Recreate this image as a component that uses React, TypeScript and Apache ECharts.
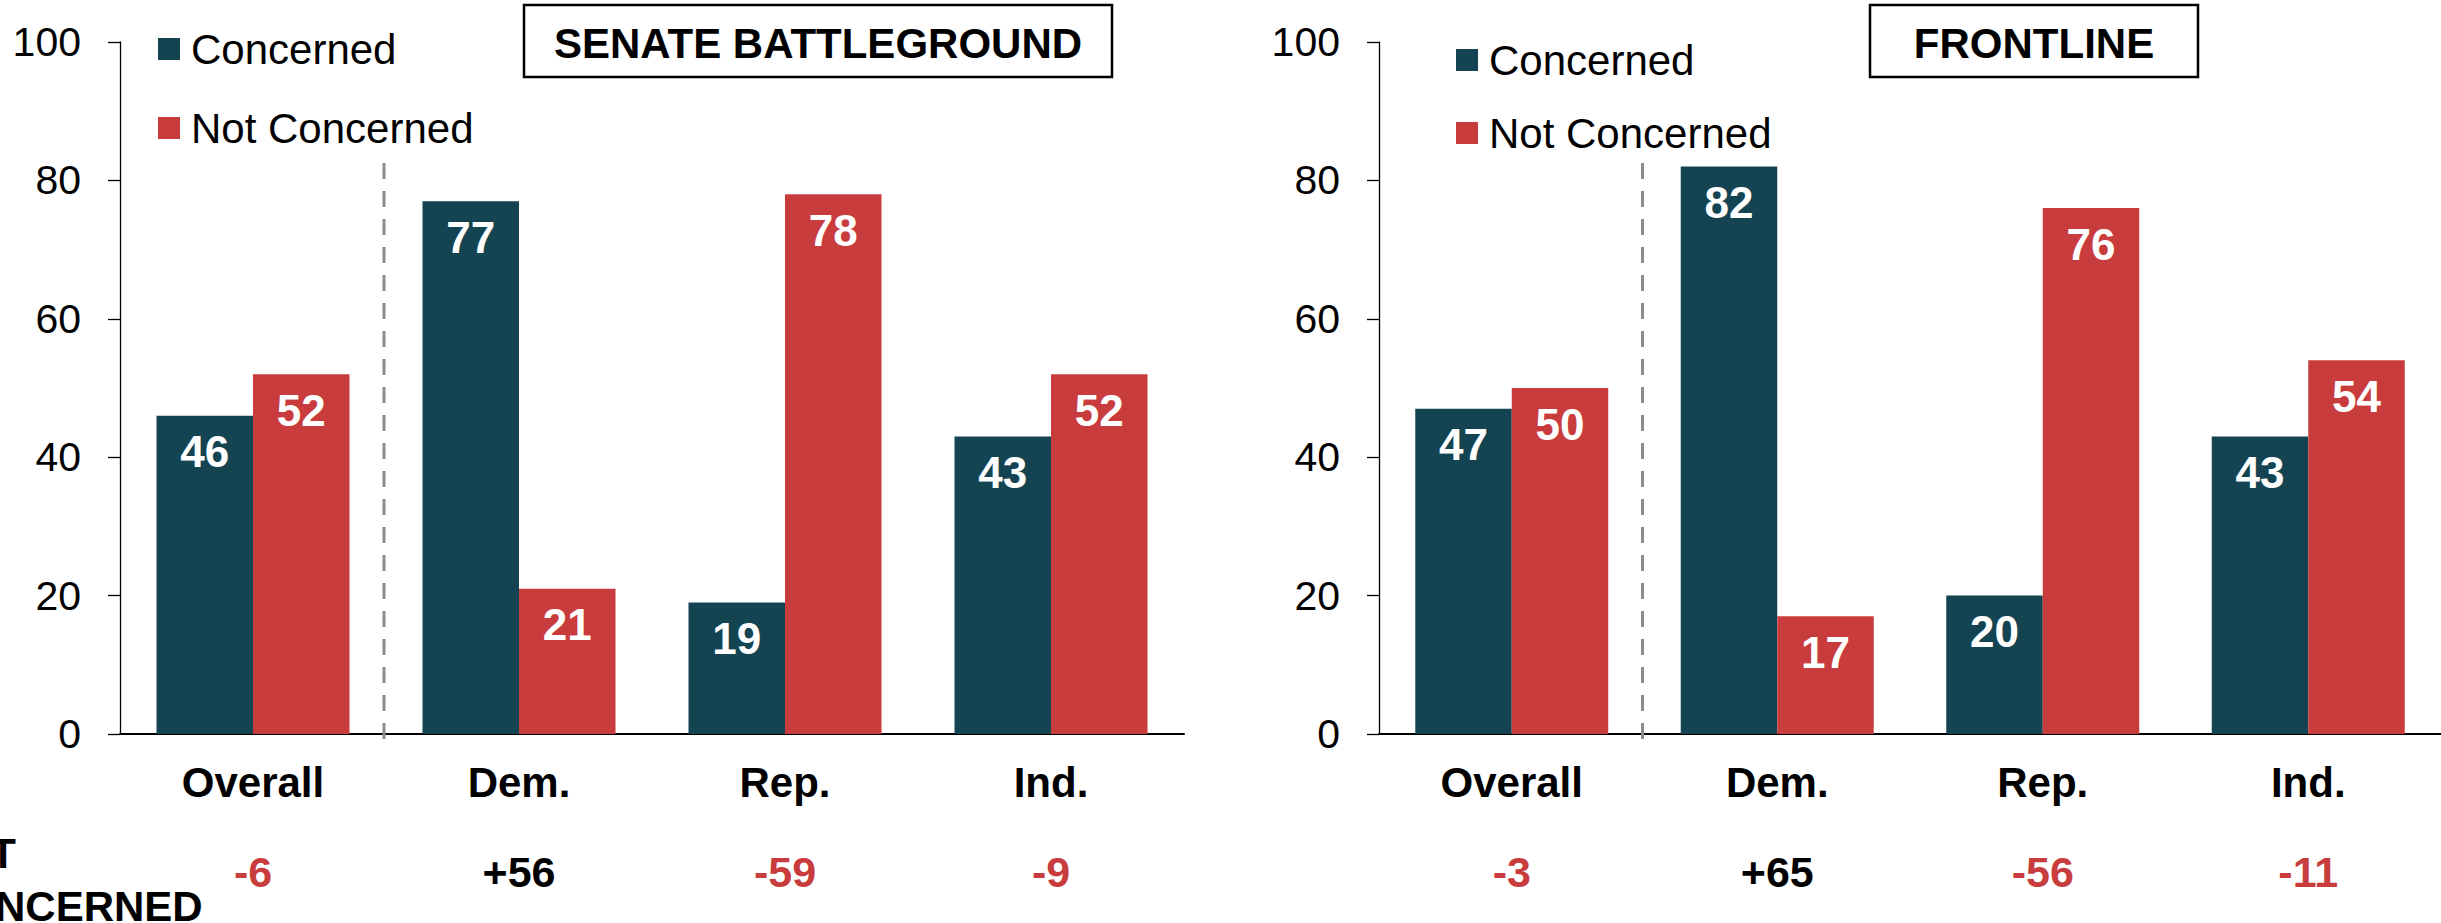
import React, { useEffect, useRef } from 'react';
import * as echarts from 'echarts';

const FONT = '"Liberation Sans", Arial, Helvetica, sans-serif';
const TEAL = '#144452';
const RED = '#C93C3D';

const categories = ['Overall', 'Dem.', 'Rep.', 'Ind.'];
const seriesNames = ['Concerned', 'Not Concerned'];

const senateConcerned = [46, 77, 19, 43];
const senateNotConcerned = [52, 21, 78, 52];
const senateNet = [-6, 56, -59, -9];

const frontlineConcerned = [47, 82, 20, 43];
const frontlineNotConcerned = [50, 17, 76, 54];
const frontlineNet = [-3, 65, -56, -11];

const panelTitles = ['SENATE BATTLEGROUND', 'FRONTLINE'];
const netRowLabel = 'NET\nCONCERNED';

const yMin = 0;
const yMax = 100;
const yInterval = 20;

export default function App() {
  const ref = useRef<HTMLDivElement>(null);

  useEffect(() => {
    document.body.style.margin = '0';
    const chart = echarts.init(ref.current as HTMLDivElement, null, { renderer: 'svg' });

    const panels = [
      { c: senateConcerned, n: senateNotConcerned, net: senateNet },
      { c: frontlineConcerned, n: frontlineNotConcerned, net: frontlineNet },
    ];
    const grids = [
      { left: 120, top: 42, width: 1064, height: 692 },
      { left: 1379, top: 42, width: 1064, height: 692 },
    ];
    const legendPos = [
      { left: 158, top: 28, itemGap: 37 },
      { left: 1456, top: 39, itemGap: 31 },
    ];

    const fmtNet = (v: number) => (v > 0 ? '+' + v : String(v));

    const option: any = {
      animation: false,
      grid: grids,
      legend: legendPos.map((p) => ({
        left: p.left,
        top: p.top,
        orient: 'vertical',
        itemGap: p.itemGap,
        itemWidth: 22,
        itemHeight: 22,
        padding: 0,
        icon: 'rect',
        selectedMode: false,
        data: seriesNames,
        textStyle: {
          fontSize: 42,
          fontFamily: FONT,
          color: '#000',
          padding: [0, 0, 0, 6],
        },
      })),
      xAxis: panels.map((p, i) => ({
        type: 'category',
        gridIndex: i,
        data: categories,
        axisLine: { show: true, lineStyle: { color: '#000', width: 2 } },
        axisTick: { show: false },
        splitLine: { show: false },
        axisLabel: {
          interval: 0,
          margin: 3,
          fontSize: 42,
          fontFamily: FONT,
          formatter: (value: string, idx: number) => {
            const v = p.net[idx];
            return `{cat|${value}}\n{${v >= 0 ? 'pos' : 'neg'}|${fmtNet(v)}}`;
          },
          rich: {
            cat: { fontSize: 42, fontWeight: 'bold', fontFamily: FONT, color: '#000', lineHeight: 90 },
            pos: { fontSize: 43, fontWeight: 'bold', fontFamily: FONT, color: '#000', lineHeight: 90 },
            neg: { fontSize: 43, fontWeight: 'bold', fontFamily: FONT, color: RED, lineHeight: 90 },
          },
        },
      })),
      yAxis: panels.map((p, i) => ({
        type: 'value',
        gridIndex: i,
        min: yMin,
        max: yMax,
        interval: yInterval,
        axisLine: { show: true, lineStyle: { color: '#000', width: 1.3 } },
        axisTick: { show: true, inside: false, length: 12, lineStyle: { color: '#000', width: 1.3 } },
        splitLine: { show: false },
        axisLabel: { fontSize: 41, fontFamily: FONT, color: '#000', margin: 39 },
      })),
      series: panels.flatMap((p, i) =>
        [p.c, p.n].map((data, k) => ({
          type: 'bar',
          name: seriesNames[k],
          xAxisIndex: i,
          yAxisIndex: i,
          data,
          barWidth: 96.5,
          barGap: '0%',
          itemStyle: { color: k === 0 ? TEAL : RED },
          label: {
            show: true,
            position: 'insideTop',
            distance: 14,
            color: '#fff',
            fontSize: 44,
            lineHeight: 44,
            fontWeight: 'bold',
            fontFamily: FONT,
          },
        }))
      ),
    };

    chart.setOption(option);

    // Divider lines between "Overall" and the party groups, placed through the axes' scales
    const dividers: any[] = [0, 1].map((i) => {
      const p0 = chart.convertToPixel({ xAxisIndex: i, yAxisIndex: i }, [0, 82.5]) as number[];
      const p1 = chart.convertToPixel({ xAxisIndex: i, yAxisIndex: i }, [1, 0]) as number[];
      const x = (p0[0] + p1[0]) / 2 - 2;
      return {
        type: 'line',
        shape: { x1: x, y1: p0[1], x2: x, y2: p1[1] + 6 },
        style: { stroke: '#8c8c8c', lineWidth: 3, lineDash: [16, 12] },
        z: 10,
      };
    });

    const titleBoxes = [
      { x: 524, w: 588 },
      { x: 1870, w: 328 },
    ];

    const graphics: any[] = [];
    titleBoxes.forEach((b, i) => {
      graphics.push({
        type: 'rect',
        shape: { x: b.x, y: 5, width: b.w, height: 72 },
        style: { fill: '#fff', stroke: '#000', lineWidth: 2.5 },
        z: 10,
      });
      graphics.push({
        type: 'text',
        x: b.x + b.w / 2,
        y: 43,
        style: {
          text: panelTitles[i],
          fontSize: 42,
          fontWeight: 'bold',
          fontFamily: FONT,
          fill: '#000',
          align: 'center',
          verticalAlign: 'middle',
        },
        z: 11,
      });
    });
    graphics.push({
      type: 'text',
      x: -68,
      y: 880,
      style: {
        text: netRowLabel,
        fontSize: 42,
        lineHeight: 53,
        fontWeight: 'bold',
        fontFamily: FONT,
        fill: '#000',
        align: 'left',
        verticalAlign: 'middle',
      },
      z: 11,
    });

    chart.setOption({ graphic: [...dividers, ...graphics] });

    return () => {
      chart.dispose();
    };
  }, []);

  return (
    <div
      ref={ref}
      style={{ position: 'absolute', left: 0, top: 0, width: 2441, height: 923, background: '#fff' }}
    />
  );
}
